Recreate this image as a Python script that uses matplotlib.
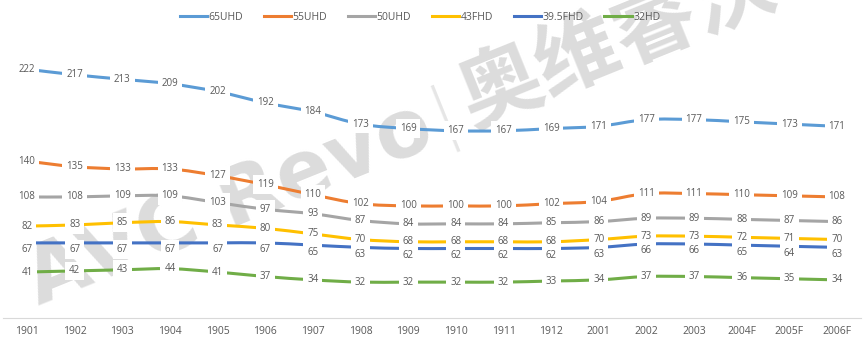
import matplotlib
matplotlib.use("Agg")
import matplotlib.pyplot as plt
from matplotlib.path import Path
from matplotlib.patches import PathPatch
from matplotlib.lines import Line2D

categories = ["1901", "1902", "1903", "1904", "1905", "1906", "1907", "1908", "1909",
              "1910", "1911", "1912", "2001", "2002", "2003", "2004F", "2005F", "2006F"]

s65uhd = [222, 217, 213, 209, 202, 192, 184, 173, 169, 167, 167, 169, 171, 177, 177, 175, 173, 171]
s55uhd = [140, 135, 133, 133, 127, 119, 110, 102, 100, 100, 100, 102, 104, 111, 111, 110, 109, 108]
s50uhd = [108, 108, 109, 109, 103, 97, 93, 87, 84, 84, 84, 85, 86, 89, 89, 88, 87, 86]
s43fhd = [82, 83, 85, 86, 83, 80, 75, 70, 68, 68, 68, 68, 70, 73, 73, 72, 71, 70]
s395fhd = [67, 67, 67, 67, 67, 67, 65, 63, 62, 62, 62, 62, 63, 66, 66, 65, 64, 63]
s32hd = [41, 42, 43, 44, 41, 37, 34, 32, 32, 32, 32, 33, 34, 37, 37, 36, 35, 34]

series_names = ["65UHD", "55UHD", "50UHD", "43FHD", "39.5FHD", "32HD"]
series_values = [s65uhd, s55uhd, s50uhd, s43fhd, s395fhd, s32hd]
colors = ["#5B9BD5", "#ED7D31", "#A5A5A5", "#FFC000", "#4472C4", "#70AD47"]
# vertical offset (points) of the value labels for each series
label_dy = [0, 0, 0, 0, -5, 0]

FONT = ["Open Sans", "DejaVu Sans"]
TEXT_C = "#595959"
plt.rcParams["font.family"] = FONT


def smooth_path(xs, ys):
    """Cubic Bezier path through the points (Catmull-Rom style tangents)."""
    pts = list(zip(xs, ys))
    n = len(pts)
    verts = [pts[0]]
    codes = [Path.MOVETO]
    for i in range(n - 1):
        p0 = pts[i - 1] if i > 0 else pts[i]
        p1 = pts[i]
        p2 = pts[i + 1]
        p3 = pts[i + 2] if i + 2 < n else pts[i + 1]
        c1 = (p1[0] + (p2[0] - p0[0]) / 6.0, p1[1] + (p2[1] - p0[1]) / 6.0)
        c2 = (p2[0] - (p3[0] - p1[0]) / 6.0, p2[1] - (p3[1] - p1[1]) / 6.0)
        verts += [c1, c2, p2]
        codes += [Path.CURVE4] * 3
    return Path(verts, codes)


fig = plt.figure(figsize=(8.64, 3.47), dpi=100)
ax = fig.add_axes([0.0037, 0.0836, 0.9926, 0.8075])
ax.patch.set_alpha(0)

x = list(range(len(categories)))
for name, vals, col, dy in zip(series_names, series_values, colors, label_dy):
    patch = PathPatch(smooth_path(x, vals), fill=False, edgecolor=col, lw=2.2,
                      capstyle="butt", joinstyle="round", zorder=2)
    ax.add_patch(patch)
    for xi, v in zip(x, vals):
        ax.annotate(str(v), (xi, v), xytext=(0, dy), textcoords="offset points",
                    ha="center", va="center", fontsize=7, color=TEXT_C, zorder=4,
                    bbox=dict(boxstyle="square,pad=0.4", fc="white", ec="none"))

ax.set_xlim(-0.5, len(categories) - 0.5)
ax.set_ylim(0, 250)
ax.set_xticks(x)
ax.set_xticklabels(categories, fontsize=7.5, color=TEXT_C)
ax.tick_params(axis="x", length=0, pad=6)
ax.set_yticks([])
for side in ("top", "right", "left"):
    ax.spines[side].set_visible(False)
ax.spines["bottom"].set_color("#D9D9D9")
ax.spines["bottom"].set_linewidth(0.8)

# watermark
wm_c = "#DCDCDC"
ax.text(430 / 864, 1 - 124 / 347, "AVC Revo", transform=fig.transFigure, rotation=22,
        rotation_mode="anchor", ha="right", va="center", fontsize=58, fontweight="bold",
        color=wm_c, family=["DejaVu Sans"], zorder=0.5, clip_on=False)
ax.text(444 / 864, 1 - 114 / 347, "|", transform=fig.transFigure, rotation=22,
        rotation_mode="anchor", ha="center", va="center", fontsize=52, fontweight="light",
        color="#E6E6E6", family=["DejaVu Sans"], zorder=0.5, clip_on=False)
ax.text(462 / 864, 1 - 104 / 347, "奥维睿沃", transform=fig.transFigure, rotation=22,
        rotation_mode="anchor", ha="left", va="center", fontsize=60, fontweight="bold",
        color=wm_c, family=["Noto Sans CJK SC"], zorder=0.5, clip_on=False)

handles = [Line2D([], [], color=c, lw=2.2) for c in colors]
fig.legend(handles, series_names, loc="center", bbox_to_anchor=(420 / 864, 1 - 17 / 347),
           ncol=6, frameon=False, fontsize=7.5, handlelength=2.6, handletextpad=0.15,
           columnspacing=2.0, labelcolor=TEXT_C)

fig.savefig("out.png", dpi=100)
